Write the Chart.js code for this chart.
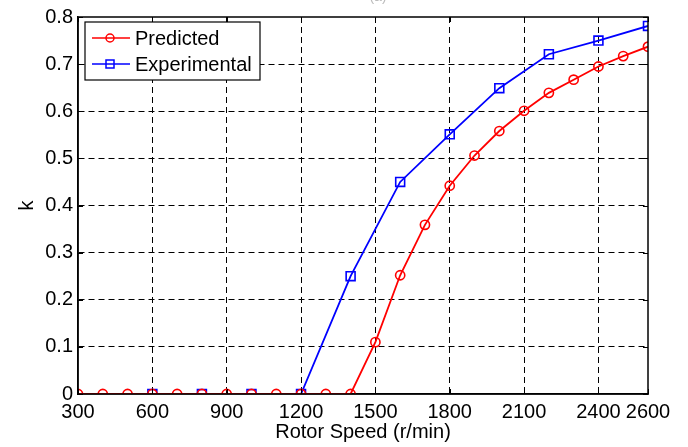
<!DOCTYPE html>
<html>
<head>
<meta charset="utf-8">
<script src="https://cdn.jsdelivr.net/npm/chart.js@4.4.0/dist/chart.umd.min.js"></script>
<style>
html,body{margin:0;padding:0;background:#fff;}
#wrap{width:688px;height:447px;position:relative;}
</style>
</head>
<body>
<div id="wrap"><canvas id="kChart" width="688" height="447"></canvas></div>
<script>
// rotor speed (r/min)
let speedPred = [300,400,500,600,700,800,900,1000,1100,1200,1300,1400,1500,1600,1700,1800,1900,2000,2100,2200,2300,2400,2500,2600]
let kPred = [0,0,0,0,0,0,0,0,0,0,0,0,0.11,0.252,0.359,0.442,0.506,0.558,0.601,0.639,0.667,0.695,0.717,0.737]
let speedExp = [600,800,1000,1200,1400,1600,1800,2000,2200,2400,2600]
let kExp = [0,0,0,0,0.25,0.45,0.551,0.649,0.721,0.75,0.781]
let xTicks = [300,600,900,1200,1500,1800,2100,2400,2600]
let yTicks = [0,0.1,0.2,0.3,0.4,0.5,0.6,0.7,0.8]

let tickFont = {family:"'Liberation Sans',Arial,sans-serif",size:20}

let toPts=(xs,ys)=>xs.map((x,i)=>({x:x,y:ys[i]}))

// axis box, inner tick marks, legend inside the plot
let boxPlugin = {
	id:'boxPlugin',
	afterDraw:c=>{
		let g=c.ctx, a=c.chartArea, sx=c.scales.x, sy=c.scales.y
		g.save()
		g.strokeStyle='#000'
		g.lineWidth=1
		g.setLineDash([])
		xTicks.forEach(v=>{
			let px=Math.round(sx.getPixelForValue(v))+0.5
			g.beginPath();g.moveTo(px,a.bottom);g.lineTo(px,a.bottom-5);g.stroke()
			g.beginPath();g.moveTo(px,a.top);g.lineTo(px,a.top+5);g.stroke()
		})
		yTicks.forEach(v=>{
			let py=Math.round(sy.getPixelForValue(v))+0.5
			g.beginPath();g.moveTo(a.left,py);g.lineTo(a.left+5,py);g.stroke()
			g.beginPath();g.moveTo(a.right,py);g.lineTo(a.right-5,py);g.stroke()
		})
		g.lineWidth=1.5
		g.strokeRect(a.left,a.top,a.right-a.left,a.bottom-a.top)
		// title, cut off at the top
		g.fillStyle='#bbb'
		g.font="14px 'Liberation Sans',Arial"
		g.textAlign='center'
		g.textBaseline='alphabetic'
		g.fillText('(a)',378,1)
		// legend
		let lx=a.left+7, ly=a.top+5, lw=175, lh=58
		g.fillStyle='#fff'
		g.fillRect(lx,ly,lw,lh)
		g.lineWidth=1.2
		g.strokeStyle='#000'
		g.strokeRect(lx,ly,lw,lh)
		g.font="20px 'Liberation Sans',Arial,sans-serif"
		g.textAlign='left'
		g.textBaseline='middle'
		c.data.datasets.forEach((d,i)=>{
			let yy=ly+16+i*26
			g.strokeStyle=d.borderColor
			g.lineWidth=1.5
			g.beginPath();g.moveTo(lx+7,yy);g.lineTo(lx+45,yy);g.stroke()
			if(d.pointStyle==='rect'){
				g.strokeRect(lx+21,yy-4,8,8)
			}else{
				g.beginPath();g.arc(lx+25,yy,4,0,Math.PI*2);g.stroke()
			}
			g.fillStyle='#000'
			g.fillText(d.label,lx+50,yy+1)
		})
		g.restore()
	}
}

new Chart(document.getElementById('kChart'),{
	type:'line',
	data:{
		datasets:[{
			label:'Predicted',
			data:toPts(speedPred,kPred),
			borderColor:'#ff0000',
			backgroundColor:'rgba(0,0,0,0)',
			borderWidth:1.8,
			pointStyle:'circle',
			pointRadius:4.6,
			pointBorderWidth:1.6,
			pointBorderColor:'#ff0000',
			pointBackgroundColor:'rgba(0,0,0,0)',
			tension:0,
			order:1
		},{
			label:'Experimental',
			data:toPts(speedExp,kExp),
			borderColor:'#0000ff',
			backgroundColor:'rgba(0,0,0,0)',
			borderWidth:1.8,
			pointStyle:'rect',
			pointRadius:6.3,
			pointBorderWidth:1.6,
			pointBorderColor:'#0000ff',
			pointBackgroundColor:'rgba(0,0,0,0)',
			tension:0,
			order:2
		}]
	},
	options:{
		responsive:false,
		maintainAspectRatio:false,
		animation:false,
		devicePixelRatio:1,
		layout:{padding:{top:15,right:40,left:0,bottom:0}},
		plugins:{legend:{display:false},tooltip:{enabled:false}},
		scales:{
			x:{
				type:'linear',min:300,max:2600,
				afterBuildTicks:s=>{s.ticks=xTicks.map(v=>({value:v}))},
				afterFit:s=>{s.height=53},
				grid:{lineWidth:1,drawTicks:false,
					color:ctx=>(ctx.tick&&(ctx.tick.value===300||ctx.tick.value===2600))?'rgba(0,0,0,0)':'#000'},
				border:{display:true,color:'#000',width:1.5,dash:[6,4]},
				ticks:{color:'#000',font:tickFont,padding:6,maxRotation:0,autoSkip:false,callback:v=>String(v)},
				title:{display:true,text:'Rotor Speed (r/min)',color:'#000',font:tickFont,padding:{top:0,bottom:3}}
			},
			y:{
				min:0,max:0.8,
				afterBuildTicks:s=>{s.ticks=yTicks.map(v=>({value:v}))},
				afterFit:s=>{s.width=78},
				grid:{lineWidth:1,drawTicks:false,
					color:ctx=>(ctx.tick&&(ctx.tick.value===0||ctx.tick.value===0.8))?'rgba(0,0,0,0)':'#000'},
				border:{display:true,color:'#000',width:1.5,dash:[6,4]},
				ticks:{color:'#000',font:tickFont,padding:5,autoSkip:false,callback:v=>v===0?'0':v.toFixed(1)},
				title:{display:true,text:'k',color:'#000',font:tickFont,padding:{top:15,bottom:0}}
			}
		}
	},
	plugins:[boxPlugin]
})
</script>
</body>
</html>
